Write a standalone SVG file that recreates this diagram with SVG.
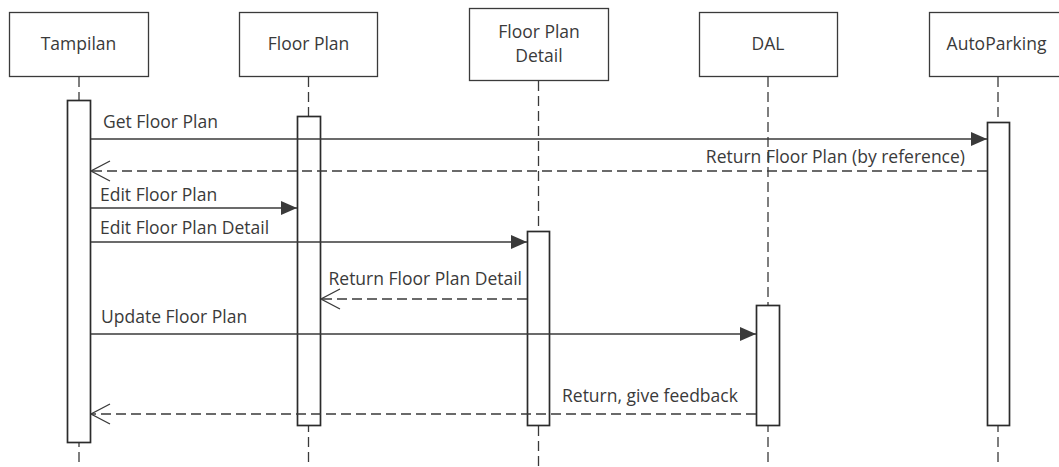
<svg xmlns="http://www.w3.org/2000/svg" width="1059" height="467" viewBox="0 0 1059 467">
  <style>
    .box { fill: #ffffff; stroke: #3a3a3a; stroke-width: 1.3; }
    .life { stroke: #3a3a3a; stroke-width: 1.3; stroke-dasharray: 10 5; fill: none; }
    .act { fill: #ffffff; stroke: #2b2b2b; stroke-width: 1.7; }
    .call { stroke: #3a3a3a; stroke-width: 1.3; fill: none; }
    .ret { stroke: #3a3a3a; stroke-width: 1.3; stroke-dasharray: 10 5; fill: none; }
    .name { font-family: "Open Sans", "Noto Sans", sans-serif; font-size: 17.5px; fill: #3a3a3a; text-anchor: middle; }
    .msg { font-family: "Open Sans", "Noto Sans", sans-serif; font-size: 17.5px; fill: #3a3a3a; }
  </style>
  <defs>
    <marker id="filled" viewBox="0 0 16 14" refX="16" refY="7" markerWidth="16" markerHeight="14" markerUnits="userSpaceOnUse" orient="auto">
      <path d="M0,0 L16,7 L0,14 Z" fill="#3a3a3a"/>
    </marker>
    <marker id="open" viewBox="0 0 20 22" refX="19.5" refY="11" markerWidth="20" markerHeight="22" markerUnits="userSpaceOnUse" orient="auto">
      <path d="M19.5,11 L0.5,1 M19.5,11 L0.5,21" stroke="#3a3a3a" stroke-width="1.3" fill="none"/>
    </marker>
  </defs>
  <rect width="1059" height="467" fill="#ffffff"/>

  <!-- lifelines -->
  <g id="lifelines">
    <line class="life" x1="79" y1="77" x2="79" y2="467"/>
    <line class="life" x1="308.5" y1="77" x2="308.5" y2="467"/>
    <line class="life" x1="538.5" y1="81" x2="538.5" y2="467"/>
    <line class="life" x1="768" y1="77" x2="768" y2="467"/>
    <line class="life" x1="998" y1="77" x2="998" y2="467"/>
  </g>

  <g id="tampilan">
    <rect class="box" x="9.5" y="12.5" width="139" height="64"/>
    <text class="name" x="78.5" y="50">Tampilan</text>
    <rect class="act" x="67.5" y="100.5" width="23" height="342"/>
  </g>
  <g id="floor-plan">
    <rect class="box" x="239.5" y="12.5" width="138" height="64"/>
    <text class="name" x="308.5" y="50">Floor Plan</text>
    <rect class="act" x="297.5" y="116.5" width="23" height="309"/>
  </g>
  <g id="floor-plan-detail">
    <rect class="box" x="469.5" y="8.5" width="139" height="72"/>
    <text class="name" x="539" y="38">Floor Plan</text>
    <text class="name" x="539" y="62">Detail</text>
    <rect class="act" x="527.5" y="231.5" width="22" height="194"/>
  </g>
  <g id="dal">
    <rect class="box" x="699.5" y="12.5" width="138" height="64"/>
    <text class="name" x="768" y="50">DAL</text>
    <rect class="act" x="756.5" y="305.5" width="23" height="120"/>
  </g>
  <g id="autoparking">
    <rect class="box" x="929.5" y="12.5" width="139" height="64"/>
    <text class="name" x="996.5" y="50">AutoParking</text>
    <rect class="act" x="987.5" y="122.5" width="22" height="303"/>
  </g>

  <!-- messages -->
  <g id="connectors">
    <line class="call" x1="91" y1="139" x2="987" y2="139" marker-end="url(#filled)"/>
    <line class="ret" x1="987" y1="171" x2="91" y2="171" marker-end="url(#open)"/>
    <line class="call" x1="91" y1="208" x2="297" y2="208" marker-end="url(#filled)"/>
    <line class="call" x1="91" y1="242" x2="527" y2="242" marker-end="url(#filled)"/>
    <line class="ret" x1="527" y1="299" x2="321" y2="299" marker-end="url(#open)"/>
    <line class="call" x1="91" y1="334" x2="756" y2="334" marker-end="url(#filled)"/>
    <line class="ret" x1="756" y1="414" x2="91" y2="414" marker-end="url(#open)"/>
  </g>

  <g id="labels">
    <text class="msg" x="103" y="128">Get Floor Plan</text>
    <text class="msg" x="965" y="163" text-anchor="end">Return Floor Plan (by reference)</text>
    <text class="msg" x="100" y="201">Edit Floor Plan</text>
    <text class="msg" x="100" y="234">Edit Floor Plan Detail</text>
    <text class="msg" x="522" y="285" text-anchor="end">Return Floor Plan Detail</text>
    <text class="msg" x="101" y="323">Update Floor Plan</text>
    <text class="msg" x="562" y="402">Return, give feedback</text>
  </g>
</svg>
